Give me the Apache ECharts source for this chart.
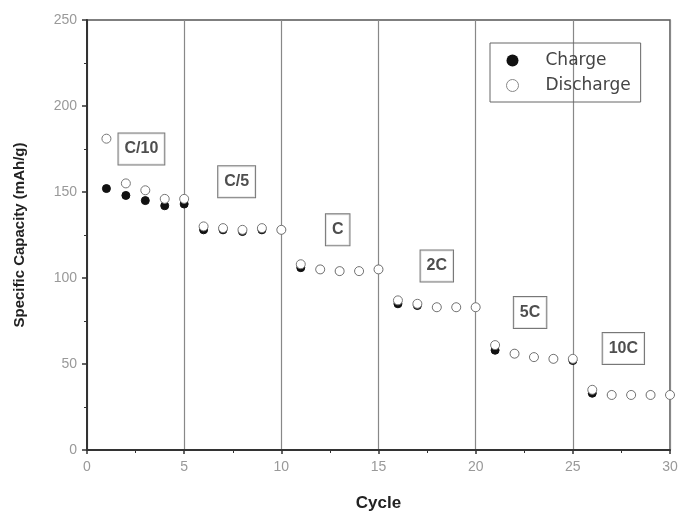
<!DOCTYPE html>
<html>
<head>
<meta charset="utf-8">
<script src="https://cdn.jsdelivr.net/npm/echarts@6/dist/echarts.min.js"></script>
<style>
  html, body { margin: 0; padding: 0; background: #fff; }
  #main { width: 678px; height: 513px; }
</style>
</head>
<body>
<div id="main"></div>
<script>
// 数据
var cycles = [1, 2, 3, 4, 5, 6, 7, 8, 9, 10, 11, 12, 13, 14, 15, 16, 17, 18, 19, 20, 21, 22, 23, 24, 25, 26, 27, 28, 29, 30];
var chargeArr = [152, 148, 145, 142, 143, 128, 128, 127, 128, 128, 106, 105, 104, 104, 105, 85, 84, 83, 83, 83, 58, 56, 54, 53, 52, 33, 32, 32, 32, 32];
var dischargeArr = [181, 155, 151, 146, 146, 130, 129, 128, 129, 128, 108, 105, 104, 104, 105, 87, 85, 83, 83, 83, 61, 56, 54, 53, 53, 35, 32, 32, 32, 32];
var rateLabels = ['C/10', 'C/5', 'C', '2C', '5C', '10C'];
var rateX = [2.8, 7.7, 12.9, 18.0, 22.8, 27.6];
var rateY = [175, 156, 128, 107, 80, 59];

function pairs (xs, ys) {
  var out = [];
  for (let i = 0; i < xs.length; i++) {
    out.push([xs[i], ys[i]]);
  }
  return out;
}

var myChart = echarts.init(document.querySelector("#main"));

var option = {
  animation: false,
  backgroundColor: '#fff',
  grid: {
    left: 87,
    right: 8,
    top: 20,
    bottom: 63,
    outerBoundsMode: 'none',
    show: true,
    borderColor: '#555',
    borderWidth: 1.5
  },
  legend: {
    orient: 'vertical',
    left: 490,
    top: 43,
    padding: [9, 10, 8, 16],
    itemGap: 8,
    itemWidth: 12,
    itemHeight: 12,
    borderColor: '#666',
    borderWidth: 1,
    textStyle: {
      fontFamily: 'DejaVu Sans',
      fontSize: 17,
      color: '#444',
      padding: [0, 0, 0, 22]
    },
    data: [
      { name: 'Charge', icon: 'circle', itemStyle: { color: '#111', borderColor: '#111' } },
      { name: 'Discharge', icon: 'circle', itemStyle: { color: '#fff', borderColor: '#888', borderWidth: 1 } }
    ]
  },
  xAxis: {
    type: 'value',
    min: 0,
    max: 30,
    interval: 5,
    name: 'Cycle',
    nameLocation: 'middle',
    nameGap: 45,
    nameTextStyle: {
      fontFamily: 'Liberation Sans',
      fontWeight: 'bold',
      fontSize: 17,
      color: '#222'
    },
    axisLine: { lineStyle: { color: '#333', width: 2 } },
    axisTick: { inside: false, length: 4, lineStyle: { color: '#333', width: 1.5 } },
    minorTick: { show: true, splitNumber: 2, length: 3, lineStyle: { color: '#333' } },
    axisLabel: {
      fontFamily: 'Liberation Sans',
      fontSize: 14,
      color: '#999',
      margin: 10
    },
    splitLine: { show: true, lineStyle: { color: '#888', width: 1.2 } }
  },
  yAxis: {
    type: 'value',
    min: 0,
    max: 250,
    interval: 50,
    name: 'Specific Capacity (mAh/g)',
    nameLocation: 'middle',
    nameGap: 60,
    nameTextStyle: {
      fontFamily: 'Liberation Sans',
      fontWeight: 'bold',
      fontSize: 15,
      color: '#222'
    },
    axisLine: { show: true, lineStyle: { color: '#333', width: 2 } },
    axisTick: { show: true, length: 5, lineStyle: { color: '#333', width: 1.5 } },
    minorTick: { show: true, splitNumber: 2, length: 3, lineStyle: { color: '#333' } },
    axisLabel: {
      fontFamily: 'Liberation Sans',
      fontSize: 14,
      color: '#999',
      margin: 10
    },
    splitLine: { show: false }
  },
  series: [
    {
      name: 'Charge',
      type: 'scatter',
      symbol: 'circle',
      symbolSize: 8,
      itemStyle: { color: '#111', borderColor: '#111', opacity: 1 },
      data: pairs(cycles, chargeArr),
      z: 2
    },
    {
      name: 'Discharge',
      type: 'scatter',
      symbol: 'circle',
      symbolSize: 9,
      itemStyle: { color: '#fff', borderColor: '#777', borderWidth: 1, opacity: 1 },
      data: pairs(cycles, dischargeArr),
      z: 3
    },
    {
      name: 'rates',
      type: 'scatter',
      symbolSize: 0,
      silent: true,
      data: pairs(rateX, rateY).map(function (p, i) {
        return { value: p, name: rateLabels[i] };
      }),
      label: {
        show: true,
        position: 'inside',
        formatter: '{b}',
        fontFamily: 'Liberation Sans',
        fontWeight: 'bold',
        fontSize: 16,
        color: '#222',
        backgroundColor: '#fff',
        borderColor: '#555',
        borderWidth: 1,
        padding: [8, 6, 7, 6]
      },
      z: 4
    }
  ]
};

myChart.setOption(option);
window.addEventListener("resize", function () {
  myChart.resize();
});
</script>
</body>
</html>
